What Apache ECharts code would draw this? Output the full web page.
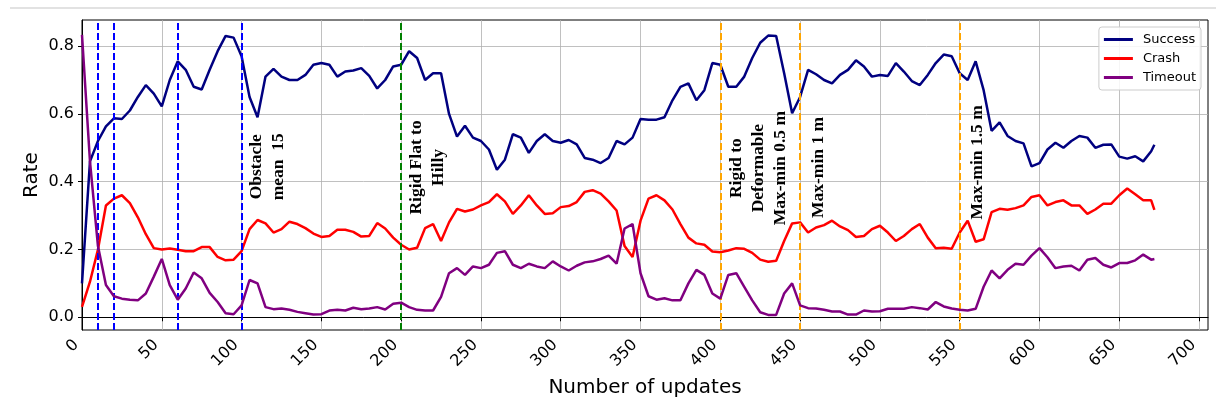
<!DOCTYPE html>
<html><head><meta charset="utf-8">
<script src="https://cdn.jsdelivr.net/npm/echarts@6/dist/echarts.min.js"></script>
<style>html,body{margin:0;padding:0;background:#fff}#c{width:1216px;height:406px}</style>
</head><body><div id="c"></div>
<script>
const updates = [0,5,10,15,20,25,30,35,40,45,50,55,60,65,70,75,80,85,90,95,100,105,110,115,120,125,130,135,140,145,150,155,160,165,170,175,180,185,190,195,200,205,210,215,220,225,230,235,240,245,250,255,260,265,270,275,280,285,290,295,300,305,310,315,320,325,330,335,340,345,350,355,360,365,370,375,380,385,390,395,400,405,410,415,420,425,430,435,440,445,450,455,460,465,470,475,480,485,490,495,500,505,510,515,520,525,530,535,540,545,550,555,560,565,570,575,580,585,590,595,600,605,610,615,620,625,630,635,640,645,650,655,660,665,670,672];
const success = [0.10,0.46,0.52,0.563,0.587,0.585,0.61,0.65,0.685,0.66,0.622,0.70,0.755,0.73,0.68,0.672,0.73,0.785,0.83,0.825,0.77,0.65,0.59,0.71,0.733,0.71,0.70,0.70,0.715,0.745,0.75,0.745,0.71,0.725,0.728,0.735,0.712,0.675,0.70,0.74,0.745,0.785,0.765,0.70,0.72,0.72,0.60,0.533,0.565,0.53,0.52,0.495,0.435,0.465,0.54,0.53,0.485,0.52,0.54,0.52,0.515,0.523,0.51,0.47,0.465,0.455,0.47,0.52,0.51,0.53,0.585,0.583,0.583,0.59,0.64,0.68,0.69,0.64,0.67,0.75,0.745,0.68,0.68,0.71,0.765,0.81,0.831,0.83,0.72,0.602,0.65,0.73,0.717,0.70,0.69,0.715,0.73,0.758,0.74,0.71,0.715,0.712,0.75,0.725,0.697,0.685,0.715,0.75,0.775,0.77,0.72,0.70,0.755,0.67,0.55,0.575,0.535,0.52,0.513,0.445,0.455,0.495,0.515,0.50,0.52,0.535,0.53,0.50,0.509,0.51,0.474,0.468,0.475,0.46,0.49,0.509];
const crash = [0.031,0.105,0.20,0.33,0.35,0.36,0.337,0.295,0.245,0.204,0.20,0.203,0.199,0.195,0.195,0.207,0.207,0.178,0.168,0.17,0.195,0.26,0.287,0.277,0.25,0.26,0.282,0.275,0.263,0.247,0.237,0.24,0.258,0.258,0.252,0.238,0.24,0.278,0.262,0.235,0.214,0.20,0.205,0.263,0.275,0.225,0.28,0.32,0.312,0.318,0.33,0.34,0.363,0.342,0.305,0.33,0.36,0.33,0.305,0.307,0.325,0.328,0.34,0.37,0.375,0.365,0.342,0.315,0.21,0.178,0.285,0.35,0.36,0.345,0.318,0.275,0.235,0.218,0.214,0.194,0.192,0.197,0.204,0.202,0.19,0.17,0.164,0.167,0.225,0.277,0.28,0.25,0.265,0.272,0.285,0.268,0.257,0.237,0.24,0.26,0.27,0.25,0.225,0.24,0.26,0.275,0.235,0.204,0.205,0.202,0.25,0.285,0.223,0.23,0.31,0.32,0.317,0.322,0.33,0.355,0.36,0.33,0.34,0.345,0.33,0.33,0.305,0.318,0.335,0.335,0.36,0.38,0.363,0.345,0.345,0.317];
const timeout = [0.833,0.46,0.21,0.095,0.062,0.055,0.052,0.05,0.07,0.12,0.172,0.095,0.052,0.085,0.132,0.115,0.072,0.045,0.012,0.009,0.035,0.11,0.10,0.03,0.024,0.026,0.022,0.016,0.012,0.008,0.009,0.02,0.022,0.02,0.028,0.024,0.026,0.03,0.023,0.04,0.043,0.03,0.022,0.02,0.02,0.06,0.13,0.145,0.125,0.15,0.145,0.155,0.19,0.195,0.155,0.145,0.158,0.15,0.145,0.165,0.15,0.138,0.152,0.162,0.165,0.172,0.182,0.158,0.262,0.275,0.13,0.062,0.052,0.056,0.05,0.05,0.10,0.14,0.125,0.07,0.055,0.125,0.13,0.09,0.05,0.015,0.007,0.007,0.07,0.10,0.035,0.027,0.026,0.022,0.017,0.017,0.008,0.008,0.02,0.017,0.018,0.025,0.025,0.025,0.03,0.027,0.023,0.045,0.032,0.026,0.022,0.02,0.025,0.09,0.138,0.115,0.14,0.158,0.155,0.182,0.204,0.177,0.145,0.15,0.152,0.138,0.17,0.175,0.155,0.147,0.16,0.16,0.168,0.185,0.17,0.172];
const xTicks = [0,50,100,150,200,250,300,350,400,450,500,550,600,650,700];
const yTicks = [0,0.2,0.4,0.6,0.8];
const blueStages = [10,20,60,100];
const greenStages = [200];
const orangeStages = [400,450,550];
const annotationTexts = ['Obstacle\nmean  15','Rigid Flat to\nHilly','Rigid to\nDeformable\nMax-min 0.5 m','Max-min 1 m','Max-min 1.5 m'];
const annotationX = [116.5,216.5,423.7,461.6,561];
const annotationY = [0.444,0.442,0.44,0.442,0.457];

const chart = echarts.init(document.getElementById('c'), null, {renderer:'canvas'});
const font = 'DejaVu Sans';
function pairs(arr){ return updates.map((u,i)=>[u,arr[i]]); }
function vlines(list,color){ return list.map(v=>({xAxis:v, lineStyle:{color:color,type:[7,3],width:2}})); }

chart.setOption({
  animation:false,
  backgroundColor:'#fff',
  grid:{left:82,right:8,top:20,bottom:76,show:true,borderColor:'#000',borderWidth:1,backgroundColor:'transparent'},
  legend:{
    data:['Success','Crash','Timeout'], orient:'vertical', right:15, top:27,
    icon:'rect', itemWidth:29, itemHeight:3, itemGap:6,
    padding:[6,5,6,5], backgroundColor:'rgba(255,255,255,0.85)', borderColor:'#cccccc', borderWidth:1, borderRadius:3,
    textStyle:{fontFamily:font,fontSize:13,color:'#000',padding:[0,0,0,5]}
  },
  xAxis:{
    type:'value', min:0, max:705.6, interval:50,
    name:'Number of updates', nameLocation:'middle', nameGap:48, nameMoveOverlap:false,
    nameTextStyle:{fontFamily:font,fontSize:20,color:'#000'},
    axisLine:{show:true,lineStyle:{color:'#000',width:1}},
    axisTick:{show:true,length:4,customValues:xTicks,lineStyle:{color:'#000'}},
    axisLabel:{customValues:xTicks,rotate:45,margin:18,verticalAlign:'bottom',lineHeight:16,fontFamily:font,fontSize:16,color:'#000'},
    splitLine:{show:true,lineStyle:{color:'#b0b0b0',width:0.8}}
  },
  yAxis:{
    type:'value', min:-0.0375, max:0.877, splitNumber:5,
    name:'Rate', nameLocation:'middle', nameGap:40, nameMoveOverlap:false,
    nameTextStyle:{fontFamily:font,fontSize:20,color:'#000'},
    axisLine:{show:true,lineStyle:{color:'#000',width:1}},
    axisTick:{show:true,length:4,customValues:yTicks,lineStyle:{color:'#000'}},
    axisLabel:{customValues:yTicks,margin:8,fontFamily:font,fontSize:16,color:'#000',formatter:v=>v.toFixed(1)},
    splitLine:{show:true,lineStyle:{color:'#b0b0b0',width:0.8}}
  },
  series:[
    {name:'Success',type:'line',data:pairs(success),showSymbol:false,color:'#000080',lineStyle:{width:2.5},z:3,
     markLine:{silent:true,symbol:['none','none'],label:{show:false},animation:false,
       data:[].concat(vlines(blueStages,'#0000ff'),vlines(greenStages,'#008000'),vlines(orangeStages,'#ffa500'))}},
    {name:'Crash',type:'line',data:pairs(crash),showSymbol:false,color:'#ff0000',lineStyle:{width:2.5},z:4},
    {name:'Timeout',type:'line',data:pairs(timeout),showSymbol:false,color:'#800080',lineStyle:{width:2.5},z:5}
  ]
});

const g = [{type:'line',shape:{x1:10,y1:8,x2:1216,y2:8},style:{stroke:'#d9d9d9',lineWidth:1.5},silent:true}];
annotationTexts.forEach((t,i)=>{
  const p = chart.convertToPixel({gridIndex:0},[annotationX[i],annotationY[i]]);
  g.push({type:'text',x:p[0],y:p[1],rotation:Math.PI/2,z:10,silent:true,
    style:{text:t,fontFamily:'Liberation Serif',fontWeight:'bold',fontSize:17.5,lineHeight:22,fill:'#000',align:'center',verticalAlign:'middle'}});
});
chart.setOption({graphic:g});
</script>
</body></html>
